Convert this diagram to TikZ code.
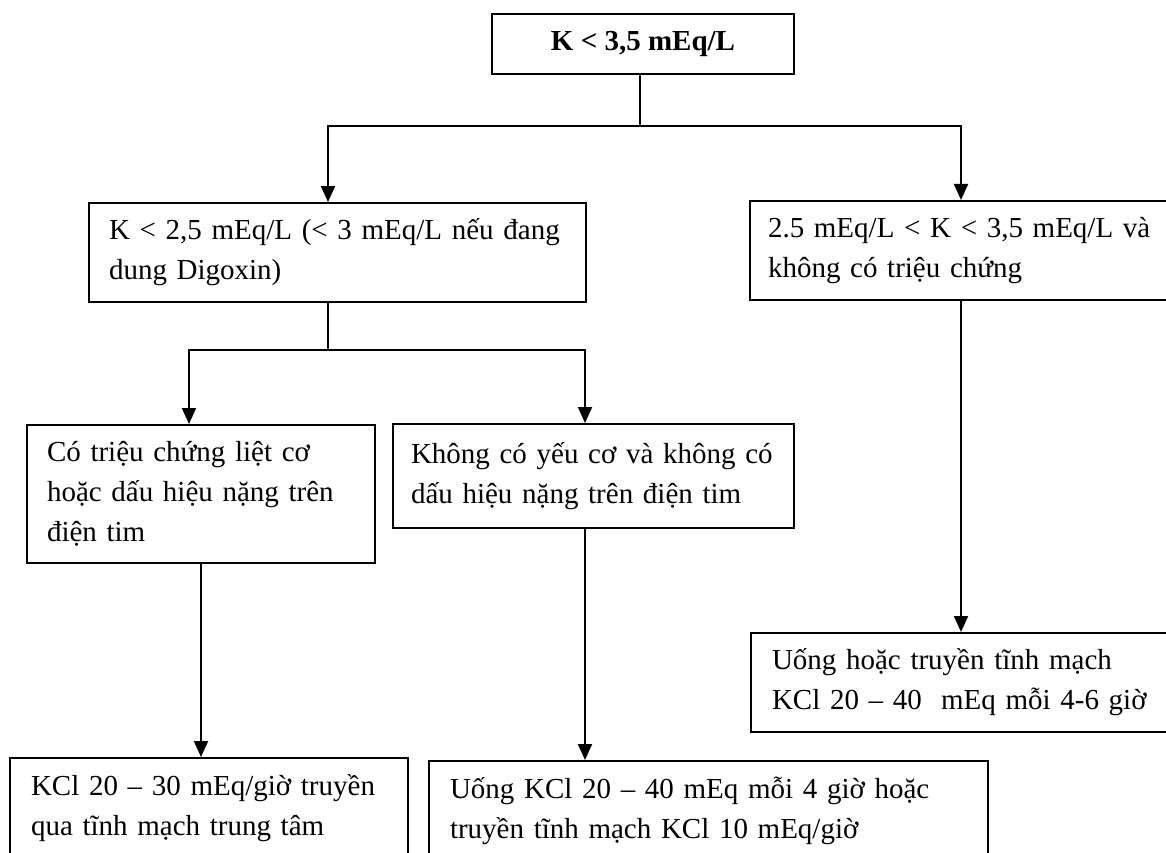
\documentclass[tikz,border=0pt]{standalone}
\usepackage{fontspec}
\setmainfont{Liberation Serif}
\usetikzlibrary{arrows.meta}

\begin{document}
\begin{tikzpicture}[
    x=1pt, y=-1pt,
    font=\fontsize{29}{40}\selectfont,
    box/.style={draw, line width=2pt, anchor=north west, align=left, inner ysep=0pt, inner xsep=20pt},
    link/.style={line width=2pt},
    arrow/.style={line width=2pt, -{Triangle[length=16pt, width=14pt]}}
]
\useasboundingbox (0,0) rectangle (1166,853);
\clip (0,0) rectangle (1166,853);

% Root
\node[box, align=center, inner xsep=0pt, minimum width=302pt, minimum height=60pt] (root) at (491,13) {\textbf{K < 3,5 mEq/L}};

% Second level
\node[box, text width=457pt, minimum height=99pt] (lowA) at (88,202) {K < 2,5 mEq/L (< 3 mEq/L nếu đang\\dung Digoxin)};
\node[box, inner xsep=18pt, text width=386pt, minimum height=99pt] (lowB) at (749,200) {\mbox{2.5 mEq/L < K < 3,5 mEq/L và}\\không có triệu chứng};

% Third level
\node[box, text width=308pt, minimum height=138pt] (sympt) at (26,424) {Có triệu chứng liệt cơ\\hoặc dấu hiệu nặng trên\\điện tim};
\node[box, inner xsep=18pt, text width=365pt, minimum height=104pt] (nosympt) at (392,423) {\mbox{Không có yếu cơ và không có}\\dấu hiệu nặng trên điện tim};

% Treatments
\node[box, inner xsep=21pt, text width=356pt, minimum height=100pt] (ivcentral) at (9,757) {KCl 20 – 30 mEq/giờ truyền\\qua tĩnh mạch trung tâm};
\node[box, inner xsep=21pt, text width=517pt, minimum height=100pt] (oralA) at (428,760) {Uống KCl 20 – 40 mEq mỗi 4 giờ hoặc\\truyền tĩnh mạch KCl 10 mEq/giờ};
\node[box, inner xsep=21pt, text width=378pt, minimum height=99pt] (oralB) at (750,632) {Uống hoặc truyền tĩnh mạch\\KCl 20 – 40~ mEq mỗi 4-6 giờ};

% Forks and columns
\coordinate (fork1) at (640,126);
\coordinate (fork2) at (328,350);
\coordinate (colA) at (189,0);
\coordinate (colB) at (585,0);

\draw[link] (fork1 |- root.south) -- (fork1);
\draw[arrow] (fork1) -| (fork2 |- lowA.north);
\draw[arrow] (fork1) -| (lowB.north);

\draw[link] (fork2 |- lowA.south) -- (fork2);
\draw[arrow] (fork2) -| (colA |- sympt.north);
\draw[arrow] (fork2) -| (colB |- nosympt.north);

\draw[arrow] (sympt.south) -- (sympt.south |- ivcentral.north);
\draw[arrow] (colB |- nosympt.south) -- (colB |- oralA.north);
\draw[arrow] (lowB.south) -- (oralB.north);

\end{tikzpicture}
\end{document}
